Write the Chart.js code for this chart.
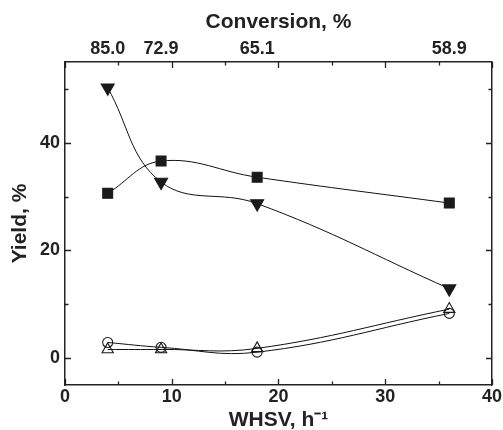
<!DOCTYPE html>
<html>
<head>
<meta charset="utf-8">
<script src="https://cdn.jsdelivr.net/npm/chart.js@4"></script>
<style>
  html, body { margin: 0; padding: 0; background: #fff; }
  #wrap { width: 503px; height: 430px; }
</style>
</head>
<body>
<div id="wrap"><canvas id="myChart" width="503" height="430"></canvas></div>
<script>
// WHSV values (h-1) and the matching conversion labels on the top axis
const whsv = [4, 9, 18, 36];
const conversionLabels = ['85.0', '72.9', '65.1', '58.9'];

// tick positions
const xTickValues = [0, 5, 10, 15, 20, 25, 30, 35, 40];
const yTickValues = [0, 10, 20, 30, 40, 50];

// Yield, % for each product series
const squareYield = [30.6, 36.6, 33.6, 28.8];
const downTriYield = [50.2, 32.7, 28.7, 12.9];
const circleYield = [2.9, 2.0, 1.1, 8.3];
const upTriYield = [1.6, 1.6, 1.8, 9.1];

const ink = '#222';
const fontFamily = '"Liberation Sans", Arial, Helvetica, sans-serif';

function toPoints(ys) {
  return whsv.map((x, i) => ({ x: x, y: ys[i] }));
}

function series(ys, style, radius, filled, rotation) {
  return {
    data: toPoints(ys),
    borderColor: '#111',
    borderWidth: 1,
    tension: 0.4,
    pointStyle: style,
    pointRadius: radius,
    pointRotation: rotation || 0,
    pointBackgroundColor: filled ? '#1a1a1a' : 'rgba(0,0,0,0)',
    pointBorderColor: '#1a1a1a',
    pointBorderWidth: 1.1
  };
}

// inward tick marks on all four sides, placed through the scales
const innerTicks = {
  id: 'innerTicks',
  afterDraw(chart) {
    const ctx = chart.ctx;
    const area = chart.chartArea;
    const xs = chart.scales.x;
    const ys = chart.scales.y;
    ctx.save();
    ctx.strokeStyle = ink;
    ctx.lineWidth = 1.3;
    ctx.beginPath();
    xs.ticks.forEach(t => {
      const len = t.value % 10 === 0 ? 6 : 3.5;
      const px = Math.round(xs.getPixelForValue(t.value)) + 0.5;
      ctx.moveTo(px, area.bottom);
      ctx.lineTo(px, area.bottom - len);
      ctx.moveTo(px, area.top);
      ctx.lineTo(px, area.top + len);
    });
    ys.ticks.forEach(t => {
      const len = t.value % 20 === 0 ? 6 : 3.5;
      const py = Math.round(ys.getPixelForValue(t.value)) + 0.5;
      ctx.moveTo(area.left, py);
      ctx.lineTo(area.left + len, py);
      ctx.moveTo(area.right, py);
      ctx.lineTo(area.right - len, py);
    });
    ctx.stroke();
    ctx.restore();
  }
};

const tickFont = { family: fontFamily, size: 18, weight: 'bold' };
const titleFont = { family: fontFamily, size: 21, weight: 'bold' };
const axisBorder = { display: true, color: ink, width: 1.5 };

new Chart('myChart', {
  type: 'line',
  data: {
    datasets: [
      series(squareYield, 'rect', 7, true),
      series(downTriYield, 'triangle', 7.5, true, 180),
      series(circleYield, 'circle', 5, false),
      series(upTriYield, 'triangle', 6.5, false)
    ]
  },
  options: {
    responsive: false,
    animation: false,
    events: [],
    layout: { padding: 0 },
    plugins: {
      legend: { display: false },
      tooltip: { enabled: false }
    },
    scales: {
      x: {
        type: 'linear',
        position: 'bottom',
        min: 0,
        max: 40,
        grid: { display: false, drawTicks: false },
        border: axisBorder,
        afterBuildTicks: axis => {
          axis.ticks = xTickValues.map(v => ({ value: v }));
        },
        ticks: {
          padding: 1,
          color: ink,
          font: tickFont,
          maxRotation: 0,
          autoSkip: false,
          callback: v => (v % 10 === 0 ? String(v) : '')
        },
        title: {
          display: true,
          text: 'WHSV, h\u207B\u00B9',
          color: ink,
          font: { family: fontFamily, size: 21, weight: 'bold', lineHeight: 0.9 },
          padding: { top: 0, bottom: 0 }
        },
        afterFit: s => { s.height = 45; }
      },
      x2: {
        type: 'linear',
        position: 'top',
        min: 0,
        max: 40,
        grid: { display: false, drawTicks: false },
        border: axisBorder,
        afterBuildTicks: axis => {
          axis.ticks = whsv.map(v => ({ value: v }));
        },
        ticks: {
          padding: 2.5,
          color: ink,
          font: tickFont,
          maxRotation: 0,
          autoSkip: false,
          callback: v => conversionLabels[whsv.indexOf(v)]
        },
        title: {
          display: true,
          text: 'Conversion, %',
          color: ink,
          font: titleFont,
          padding: { top: 10, bottom: 0 }
        },
        afterFit: s => { s.height = 62; }
      },
      y: {
        position: 'left',
        min: -5,
        max: 55,
        grid: { display: false, drawTicks: false },
        border: axisBorder,
        afterBuildTicks: axis => {
          axis.ticks = yTickValues.map(v => ({ value: v }));
        },
        ticks: {
          padding: 5,
          color: ink,
          font: tickFont,
          autoSkip: false,
          callback: v => (v % 20 === 0 ? String(v) : '')
        },
        title: {
          display: true,
          text: 'Yield, %',
          color: ink,
          font: titleFont,
          padding: { top: 8, bottom: 0 }
        },
        afterFit: s => { s.width = 65; }
      },
      y2: {
        position: 'right',
        min: -5,
        max: 55,
        grid: { display: false, drawTicks: false },
        border: axisBorder,
        ticks: { display: false },
        afterFit: s => { s.width = 10; }
      }
    }
  },
  plugins: [innerTicks]
});
</script>
</body>
</html>
